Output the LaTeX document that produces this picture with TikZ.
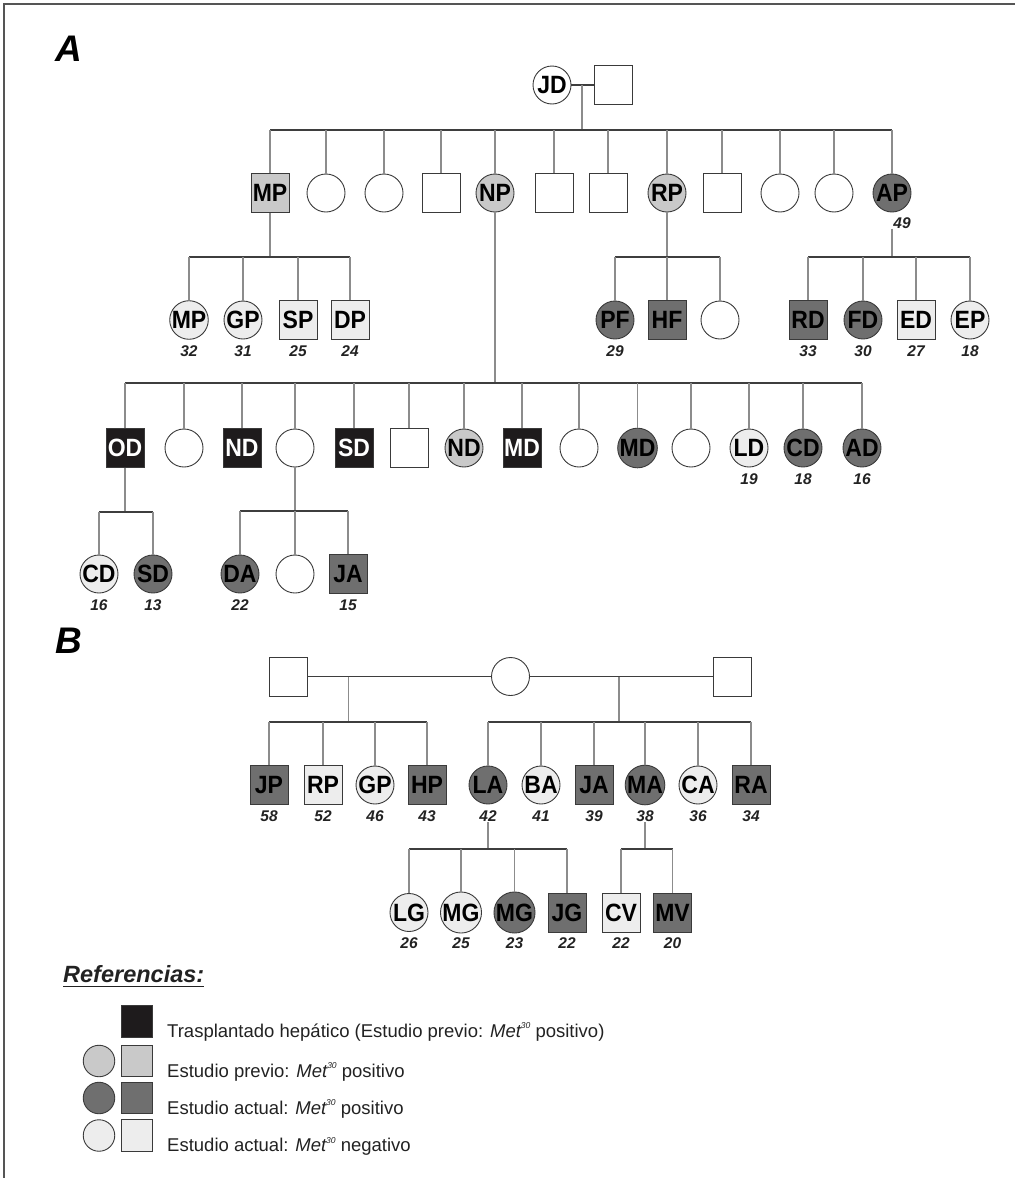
\documentclass[tikz,border=0pt]{standalone}
\usepackage{fontspec}
\setmainfont{Liberation Sans}
\newfontfamily\lblfont[FakeStretch=0.92]{Liberation Sans}
\definecolor{prevc}{HTML}{C9C9C9}
\definecolor{actc}{HTML}{6F6F6F}
\definecolor{negc}{HTML}{EDEDED}
\definecolor{transc}{HTML}{1E1B1C}
\definecolor{edgec}{HTML}{3A3A3A}
\definecolor{connc}{HTML}{8C8C8C}
\definecolor{sibc}{HTML}{3E3E3E}
\definecolor{framec}{HTML}{555555}
\definecolor{textc}{HTML}{222222}
\newcommand{\metsup}{{\itshape Met}\raisebox{0.45em}{\fontsize{8.5}{9}\selectfont\itshape 30}}
\tikzset{
  ind/.style={inner sep=0pt, draw=edgec, line width=0.9pt, text=black,
    font={\lblfont\bfseries\fontsize{25}{25}\selectfont}},
  fem/.style={ind, circle, minimum size=38pt},
  mal/.style={ind, rectangle, minimum width=38pt, minimum height=39pt},
  fillW/.style={fill=white},
  fillP/.style={fill=prevc},
  fillA/.style={fill=actc},
  fillN/.style={fill=negc},
  fillT/.style={fill=transc, text=white},
  age/.style={inner sep=0pt, text=textc, font={\bfseries\itshape\fontsize{15.5}{15.5}\selectfont}},
  conn/.style={draw=connc, line width=1.1pt},
  sib/.style={draw=sibc, line width=2pt},
  mar/.style={draw=sibc, line width=1.8pt},
  gen/.style={inner sep=0pt, font={\bfseries\itshape\fontsize{37}{37}\selectfont}},
  legtxt/.style={anchor=base west, inner sep=0pt, text=textc, font={\fontsize{18.5}{19}\selectfont}},
  legfem/.style={ind, circle, minimum size=31.5pt},
  legmal/.style={ind, rectangle, minimum width=31pt, minimum height=31.5pt},
}
\begin{document}
\begin{tikzpicture}[x=1pt,y=-1pt]
\useasboundingbox (0,0) rectangle (1015,1178);
\draw[line width=1.5pt, draw=framec] (4,1178) -- (4,4) -- (1015,4);

% ---------------- Panel A ----------------
\node[gen] (labA) at (69,49) {A};

\node[fem,fillW] (JD) at (552,85) {JD};
\node[mal,fillW] (JDsp) at (613,85) {};
\draw[mar] (JD.east) -- (JDsp.west);
\coordinate (mA) at (582,85);
\coordinate (sA) at (582,129.5);

\node[mal,fillP] (a1) at (270,193) {MP};
\node[fem,fillW] (a2) at (326,193) {};
\node[fem,fillW] (a3) at (384,193) {};
\node[mal,fillW] (a4) at (441,193) {};
\node[fem,fillP] (a5) at (495,193) {NP};
\node[mal,fillW] (a6) at (554,193) {};
\node[mal,fillW] (a7) at (608,193) {};
\node[fem,fillP] (a8) at (667,193) {RP};
\node[mal,fillW] (a9) at (722,193) {};
\node[fem,fillW] (a10) at (780,193) {};
\node[fem,fillW] (a11) at (834,193) {};
\node[fem,fillA] (a12) at (892,193) {AP};
\node[age] (age49) at (902,223) {49};

\draw[conn] (mA) -- (sA);
\draw[sib] (a1.north |- sA) -- (a12.north |- sA);
\foreach \c in {a1,a2,a3,a4,a5,a6,a7,a8,a9,a10,a11,a12}
  \draw[conn] (\c.north) -- (\c.north |- sA);

% MP family
\coordinate (sB) at (270,256.5);
\node[fem,fillN] (b1) at (189,320) {MP};
\node[fem,fillN] (b2) at (243,320) {GP};
\node[mal,fillN] (b3) at (298,320) {SP};
\node[mal,fillN] (b4) at (350,320) {DP};
\node[age] (ab1) at (189,351) {32};
\node[age] (ab2) at (243,351) {31};
\node[age] (ab3) at (298,351) {25};
\node[age] (ab4) at (350,351) {24};
\draw[conn] (a1.south) -- (sB);
\draw[sib] (b1.north |- sB) -- (b4.north |- sB);
\foreach \c in {b1,b2,b3,b4}
  \draw[conn] (\c.north) -- (\c.north |- sB);

% RP family
\coordinate (sC) at (667,256.5);
\node[fem,fillA] (c1) at (615,320) {PF};
\node[mal,fillA] (c2) at (667,320) {HF};
\node[fem,fillW] (c3) at (720,320) {};
\node[age] (ac1) at (615,351) {29};
\draw[conn] (a8.south) -- (sC);
\draw[sib] (c1.north |- sC) -- (c3.north |- sC);
\foreach \c in {c1,c2,c3}
  \draw[conn] (\c.north) -- (\c.north |- sC);

% AP family
\coordinate (sD) at (892,256.5);
\node[mal,fillA] (d1) at (808,320) {RD};
\node[fem,fillA] (d2) at (863,320) {FD};
\node[mal,fillN] (d3) at (916,320) {ED};
\node[fem,fillN] (d4) at (970,320) {EP};
\node[age] (ad1) at (808,351) {33};
\node[age] (ad2) at (863,351) {30};
\node[age] (ad3) at (916,351) {27};
\node[age] (ad4) at (970,351) {18};
\draw[conn] (a12.south |- age49.south) -- (sD);
\draw[sib] (d1.north |- sD) -- (d4.north |- sD);
\foreach \c in {d1,d2,d3,d4}
  \draw[conn] (\c.north) -- (\c.north |- sD);

% NP family
\coordinate (sE) at (495,383);
\node[mal,fillT] (e1) at (125,448) {OD};
\node[fem,fillW] (e2) at (184,448) {};
\node[mal,fillT] (e3) at (242,448) {ND};
\node[fem,fillW] (e4) at (295,448) {};
\node[mal,fillT] (e5) at (354,448) {SD};
\node[mal,fillW] (e6) at (409,448) {};
\node[fem,fillP] (e7) at (464,448) {ND};
\node[mal,fillT] (e8) at (522,448) {MD};
\node[fem,fillW] (e9) at (579,448) {};
\node[fem,fillA] (e10) at (637.5,448) {MD};
\node[fem,fillW] (e11) at (691,448) {};
\node[fem,fillN] (e12) at (749,448) {LD};
\node[fem,fillA] (e13) at (803,448) {CD};
\node[fem,fillA] (e14) at (862,448) {AD};
\node[age] (ae12) at (749,479) {19};
\node[age] (ae13) at (803,479) {18};
\node[age] (ae14) at (862,479) {16};
\draw[conn] (a5.south) -- (sE);
\draw[sib] (e1.north |- sE) -- (e14.north |- sE);
\foreach \c in {e1,e2,e3,e4,e5,e6,e7,e8,e9,e10,e11,e12,e13,e14}
  \draw[conn] (\c.north) -- (\c.north |- sE);

% OD family
\coordinate (sF) at (125,512);
\node[fem,fillN] (f1) at (99,574) {CD};
\node[fem,fillA] (f2) at (153,574) {SD};
\node[age] (af1) at (99,605) {16};
\node[age] (af2) at (153,605) {13};
\draw[conn] (e1.south) -- (sF);
\draw[sib] (f1.north |- sF) -- (f2.north |- sF);
\foreach \c in {f1,f2}
  \draw[conn] (\c.north) -- (\c.north |- sF);

% e4 family
\coordinate (sG) at (295,511);
\node[fem,fillA] (g1) at (240,574) {DA};
\node[fem,fillW] (g2) at (295,574) {};
\node[mal,fillA] (g3) at (348,574) {JA};
\node[age] (ag1) at (240,605) {22};
\node[age] (ag3) at (348,605) {15};
\draw[conn] (e4.south) -- (sG);
\draw[sib] (g1.north |- sG) -- (g3.north |- sG);
\foreach \c in {g1,g2,g3}
  \draw[conn] (\c.north) -- (\c.north |- sG);

% ---------------- Panel B ----------------
\node[gen] (labB) at (69,641) {B};

\node[mal,fillW] (h1) at (288,676.5) {};
\node[fem,fillW] (h2) at (510.5,676.5) {};
\node[mal,fillW] (h3) at (732,676.5) {};
\draw[mar] (h1.east) -- (h2.west);
\draw[mar] (h2.east) -- (h3.west);
\coordinate (mB1) at (348.5,676.5);
\coordinate (mB2) at (619,676.5);
\coordinate (sH1) at (348.5,722);
\coordinate (sH2) at (619,722);

\node[mal,fillA] (i1) at (269,785) {JP};
\node[mal,fillN] (i2) at (323,785) {RP};
\node[fem,fillN] (i3) at (375,785) {GP};
\node[mal,fillA] (i4) at (427,785) {HP};
\node[fem,fillA] (i5) at (488,785) {LA};
\node[fem,fillN] (i6) at (541,785) {BA};
\node[mal,fillA] (i7) at (594,785) {JA};
\node[fem,fillA] (i8) at (645,785) {MA};
\node[fem,fillN] (i9) at (698,785) {CA};
\node[mal,fillA] (i10) at (751,785) {RA};
\node[age] (ai1) at (269,816.5) {58};
\node[age] (ai2) at (323,816.5) {52};
\node[age] (ai3) at (375,816.5) {46};
\node[age] (ai4) at (427,816.5) {43};
\node[age] (ai5) at (488,816.5) {42};
\node[age] (ai6) at (541,816.5) {41};
\node[age] (ai7) at (594,816.5) {39};
\node[age] (ai8) at (645,816.5) {38};
\node[age] (ai9) at (698,816.5) {36};
\node[age] (ai10) at (751,816.5) {34};

\draw[conn] (mB1) -- (sH1);
\draw[conn] (mB2) -- (sH2);
\draw[sib] (i1.north |- sH1) -- (i4.north |- sH1);
\draw[sib] (i5.north |- sH2) -- (i10.north |- sH2);
\foreach \c in {i1,i2,i3,i4}
  \draw[conn] (\c.north) -- (\c.north |- sH1);
\foreach \c in {i5,i6,i7,i8,i9,i10}
  \draw[conn] (\c.north) -- (\c.north |- sH2);

\coordinate (sJ1) at (488,849);
\coordinate (sJ2) at (645,849);
\node[fem,fillN] (j1) at (409,912.5) {LG};
\node[fem,fillN] (j2) at (461,912.5) {MG};
\node[fem,fillA] (j3) at (514.5,912.5) {MG};
\node[mal,fillA] (j4) at (567,912.5) {JG};
\node[mal,fillN] (j5) at (621,912.5) {CV};
\node[mal,fillA] (j6) at (672.5,912.5) {MV};
\node[age] (aj1) at (409,943) {26};
\node[age] (aj2) at (461,943) {25};
\node[age] (aj3) at (514.5,943) {23};
\node[age] (aj4) at (567,943) {22};
\node[age] (aj5) at (621,943) {22};
\node[age] (aj6) at (672.5,943) {20};
\draw[conn] (i5.south |- ai5.south) -- (sJ1);
\draw[conn] (i8.south |- ai8.south) -- (sJ2);
\draw[sib] (j1.north |- sJ1) -- (j4.north |- sJ1);
\draw[sib] (j5.north |- sJ2) -- (j6.north |- sJ2);
\foreach \c in {j1,j2,j3,j4}
  \draw[conn] (\c.north) -- (\c.north |- sJ1);
\foreach \c in {j5,j6}
  \draw[conn] (\c.north) -- (\c.north |- sJ2);

% ---------------- Legend ----------------
\node[anchor=base west, inner sep=0pt, text=textc, font={\bfseries\itshape\fontsize{23.5}{24}\selectfont}] (ref) at (63,982) {Referencias:};
\draw[line width=1.3pt, draw=textc] ([yshift=-4.5pt]ref.base west) -- ([yshift=-4.5pt]ref.base east);

\node[legmal,fillT] (L1s) at (137,1021.5) {};
\node[legfem,fillP] (L2c) at (99,1061) {};
\node[legmal,fillP] (L2s) at (137,1061) {};
\node[legfem,fillA] (L3c) at (99,1098) {};
\node[legmal,fillA] (L3s) at (137,1098) {};
\node[legfem,fillN] (L4c) at (99,1135.5) {};
\node[legmal,fillN] (L4s) at (137,1135.5) {};

\node[legtxt] (T1) at (167,1037) {Trasplantado hepático (Estudio previo: \metsup\ positivo)};
\node[legtxt] (T2) at (167,1077) {Estudio previo: \metsup\ positivo};
\node[legtxt] (T3) at (167,1114) {Estudio actual: \metsup\ positivo};
\node[legtxt] (T4) at (167,1151.5) {Estudio actual: \metsup\ negativo};
\end{tikzpicture}
\end{document}
